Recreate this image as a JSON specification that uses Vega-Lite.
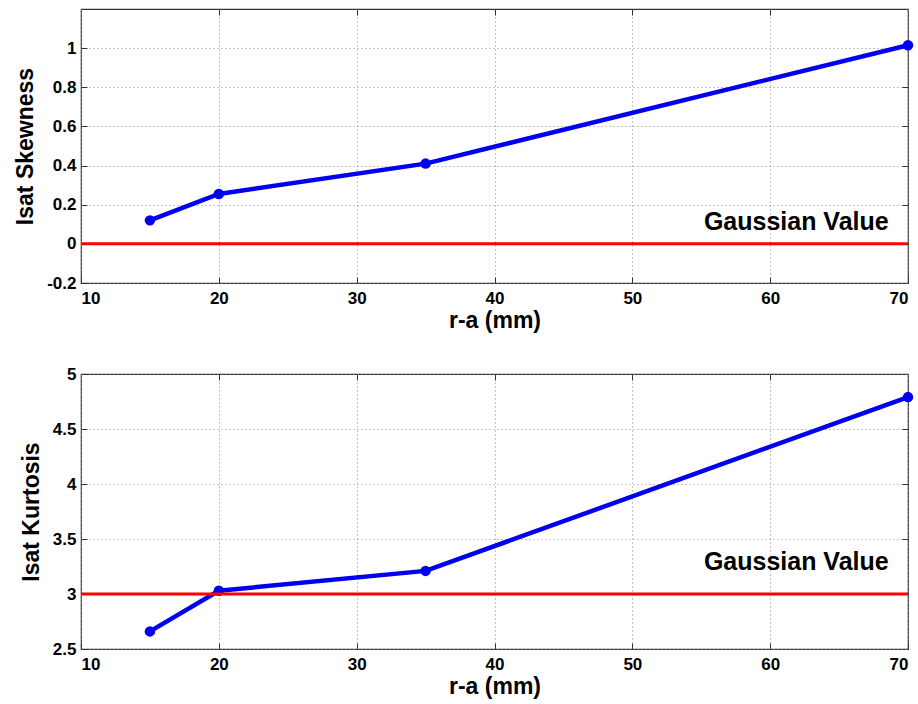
{
  "$schema": "https://vega.github.io/schema/vega-lite/v6.json",
  "background": "white",
  "padding": {"left": 14, "top": 7, "right": 8, "bottom": 5},
  "spacing": 31,
  "config": {
    "font": "Liberation Sans",
    "view": {"stroke": "#333333", "strokeWidth": 1.2},
    "axis": {
      "labelFont": "Liberation Sans",
      "labelFontSize": 17,
      "labelFontWeight": "bold",
      "labelColor": "black",
      "titleFont": "Liberation Sans",
      "titleFontSize": 23,
      "titleFontWeight": "bold",
      "titleColor": "black",
      "domain": false,
      "tickColor": "#333333",
      "tickSize": -6,
      "grid": true,
      "gridColor": "#888888",
      "gridDash": [1, 3],
      "gridWidth": 1,
      "gridOpacity": 1,
      "labelExpr": "'' + datum.value"
    },
    "axisX": {"labelPadding": 13, "titlePadding": 3},
    "axisY": {"labelPadding": 11, "titlePadding": 9}
  },
  "vconcat": [
    {
      "width": 827,
      "height": 274,
      "resolve": {"axis": {"x": "independent", "y": "independent"}},
      "layer": [
        {
          "data": {"values": [
            {"r": 15, "skew": 0.12},
            {"r": 20, "skew": 0.255},
            {"r": 35, "skew": 0.41},
            {"r": 70, "skew": 1.015}
          ]},
          "mark": {"type": "line", "color": "#0000f0", "strokeWidth": 4.5, "clip": false,
                   "point": {"filled": true, "color": "#0000f0", "size": 110, "opacity": 1}},
          "encoding": {
            "x": {"field": "r", "type": "quantitative", "title": "r-a (mm)",
                  "scale": {"domain": [10, 70], "nice": false},
                  "axis": {"orient": "bottom", "values": [10, 20, 30, 40, 50, 60, 70]}},
            "y": {"field": "skew", "type": "quantitative", "title": "Isat Skewness",
                  "scale": {"domain": [-0.2, 1.2], "nice": false},
                  "axis": {"orient": "left", "values": [-0.2, 0, 0.2, 0.4, 0.6, 0.8, 1]}}
          }
        },
        {
          "data": {"values": [{"gauss": 0}]},
          "mark": {"type": "rule", "color": "#ff0000", "strokeWidth": 3},
          "encoding": {"y": {"field": "gauss", "type": "quantitative", "axis": null}}
        },
        {
          "data": {"values": [{"tx": 68.6, "ty": 0.045, "label": "Gaussian Value"}]},
          "mark": {"type": "text", "align": "right", "baseline": "bottom", "fontSize": 25, "fontWeight": "bold", "font": "Liberation Sans", "color": "black"},
          "encoding": {
            "x": {"field": "tx", "type": "quantitative",
                  "axis": {"orient": "top", "values": [20, 30, 40, 50, 60], "labels": false, "title": null, "grid": false}},
            "y": {"field": "ty", "type": "quantitative",
                  "axis": {"orient": "right", "values": [0, 0.2, 0.4, 0.6, 0.8, 1], "labels": false, "title": null, "grid": false}},
            "text": {"field": "label"}
          }
        }
      ]
    },
    {
      "width": 827,
      "height": 275,
      "resolve": {"axis": {"x": "independent", "y": "independent"}},
      "layer": [
        {
          "data": {"values": [
            {"r": 15, "kurt": 2.66},
            {"r": 20, "kurt": 3.03},
            {"r": 35, "kurt": 3.21},
            {"r": 70, "kurt": 4.79}
          ]},
          "mark": {"type": "line", "color": "#0000f0", "strokeWidth": 4.5, "clip": false,
                   "point": {"filled": true, "color": "#0000f0", "size": 110, "opacity": 1}},
          "encoding": {
            "x": {"field": "r", "type": "quantitative", "title": "r-a (mm)",
                  "scale": {"domain": [10, 70], "nice": false},
                  "axis": {"orient": "bottom", "values": [10, 20, 30, 40, 50, 60, 70]}},
            "y": {"field": "kurt", "type": "quantitative", "title": "Isat Kurtosis",
                  "scale": {"domain": [2.5, 5], "nice": false},
                  "axis": {"orient": "left", "values": [2.5, 3, 3.5, 4, 4.5, 5]}}
          }
        },
        {
          "data": {"values": [{"gauss": 3}]},
          "mark": {"type": "rule", "color": "#ff0000", "strokeWidth": 3},
          "encoding": {"y": {"field": "gauss", "type": "quantitative", "axis": null}}
        },
        {
          "data": {"values": [{"tx": 68.6, "ty": 3.17, "label": "Gaussian Value"}]},
          "mark": {"type": "text", "align": "right", "baseline": "bottom", "fontSize": 25, "fontWeight": "bold", "font": "Liberation Sans", "color": "black"},
          "encoding": {
            "x": {"field": "tx", "type": "quantitative",
                  "axis": {"orient": "top", "values": [20, 30, 40, 50, 60], "labels": false, "title": null, "grid": false}},
            "y": {"field": "ty", "type": "quantitative",
                  "axis": {"orient": "right", "values": [3, 3.5, 4, 4.5], "labels": false, "title": null, "grid": false}},
            "text": {"field": "label"}
          }
        }
      ]
    }
  ]
}
